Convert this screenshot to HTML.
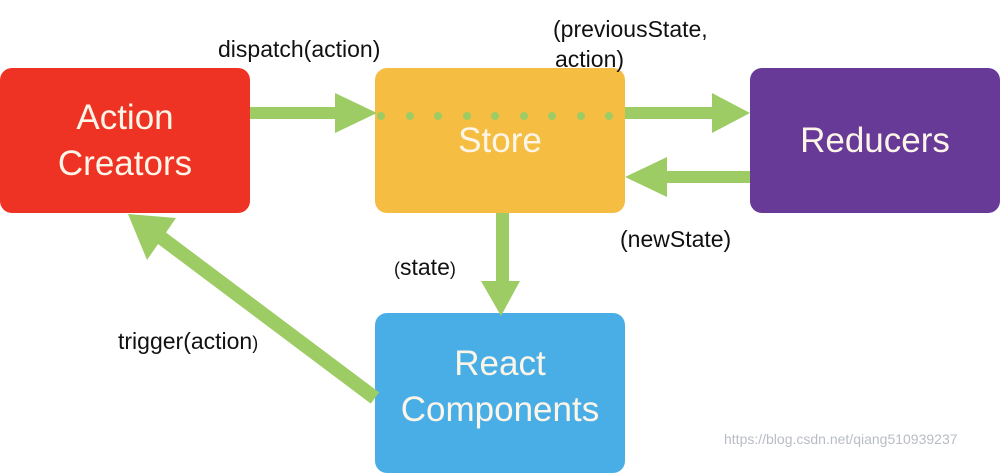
<!DOCTYPE html>
<html><head><meta charset="utf-8"><style>
body{margin:0;width:1000px;height:459px;overflow:hidden;background:#fff;font-family:"Liberation Sans",sans-serif;position:relative}
.b{position:absolute;border-radius:12px;color:#fdf6e8;font-size:35px;display:flex;align-items:center;justify-content:center;text-align:center;line-height:46px}
.t{position:absolute;font-size:23px;color:#111;white-space:nowrap}
</style></head><body>
<div class="b" style="left:0;top:68px;width:250px;height:145px;background:#ee3224">Action<br>Creators</div>
<div class="b" style="left:375px;top:68px;width:250px;height:145px;background:#f5bd42">Store</div>
<div class="b" style="left:750px;top:68px;width:250px;height:145px;background:#673a98">Reducers</div>
<div class="b" style="left:375px;top:313px;width:250px;height:160px;background:#4aaee6;padding-top:0;box-sizing:border-box;align-items:flex-start;padding-top:28px">React<br>Components</div>
<svg width="1000" height="459" style="position:absolute;left:0;top:0">
<g fill="#9dcc65" stroke="none">
<rect x="250" y="107" width="90" height="12"/><polygon points="335,93 377,113 335,133"/>
<rect x="625" y="107" width="92" height="12"/><polygon points="712,93 750,113 712,133"/>
<rect x="665" y="171" width="85" height="12"/><polygon points="625,177 667,157 667,197"/>
<rect x="496" y="213" width="13" height="70"/><polygon points="481,281 520,281 501,316"/>
<polygon points="128,214 176,218 147,260"/>
<g fill="#9dcc65"><circle cx="381" cy="116" r="4"/><circle cx="410" cy="116" r="4"/><circle cx="438" cy="116" r="4"/><circle cx="467" cy="116" r="4"/><circle cx="495" cy="116" r="4"/><circle cx="524" cy="116" r="4"/><circle cx="552" cy="116" r="4"/><circle cx="581" cy="116" r="4"/><circle cx="609" cy="116" r="4"/></g>
</g>
<line x1="375" y1="398" x2="155" y2="233" stroke="#9dcc65" stroke-width="14"/>
</svg>
<div class="t" style="left:218px;top:36px">dispatch(action)</div>
<div class="t" style="left:553px;top:16px">(previousState,</div>
<div class="t" style="left:555px;top:46px">action)</div>
<div class="t" style="left:620px;top:226px">(newState)</div>
<div class="t" style="left:394px;top:254px"><span style="font-size:18px">(</span>state<span style="font-size:18px">)</span></div>
<div class="t" style="left:118px;top:328px">trigger(action<span style="font-size:18px">)</span></div>
<div style="position:absolute;left:724px;top:431px;font-size:14px;color:#b8bcc4">https://blog.csdn.net/qiang510939237</div>
</body></html>
